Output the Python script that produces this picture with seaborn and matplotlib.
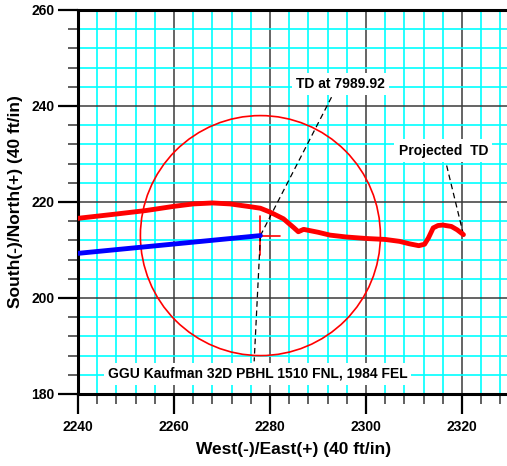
import matplotlib
matplotlib.use("Agg")
import matplotlib.pyplot as plt
import seaborn as sns
import pandas as pd
from matplotlib.patches import Circle
from matplotlib.ticker import MultipleLocator

# ---- data ----
actual_x = [2240, 2248, 2254, 2260, 2264, 2268, 2271.7, 2276, 2278, 2280, 2282.8,
            2284.9, 2285.9, 2287, 2290, 2292.5, 2296, 2300, 2304, 2307, 2309,
            2311, 2312.2, 2313, 2314, 2315, 2316, 2317.8, 2319, 2320.3]
actual_y = [216.6, 217.5, 218.2, 219.1, 219.6, 219.8, 219.6, 219.0, 218.7, 217.9, 216.5,
            214.7, 213.8, 214.3, 213.7, 213.1, 212.7, 212.4, 212.2, 211.8, 211.3,
            210.9, 211.2, 212.5, 214.6, 215.1, 215.2, 214.9, 214.2, 213.2]
plan_x = [2240, 2278]
plan_y = [209.3, 213.0]
target_x = 2278.0
target_y = 213.0
target_radius = 25.0
cross_half = 4.0

td_text = "TD at 7989.92"
td_xy = (2294.6, 244.6)
td_leader_end = (2293.0, 242.2)
proj_text = "Projected  TD"
proj_xy = (2316.1, 230.7)
proj_leader_start = (2316.8, 227.6)
pbhl_text = "GGU Kaufman 32D PBHL 1510 FNL, 1984 FEL"
pbhl_xy = (2277.4, 184.2)
pbhl_leader_end = (2276.7, 186.8)

xlabel = "West(-)/East(+) (40 ft/in)"
ylabel = "South(-)/North(+) (40 ft/in)"

# ---- style ----
sns.set_style("white")
plt.rcParams['font.family'] = ['Liberation Sans', 'DejaVu Sans']
plt.rcParams['font.weight'] = 'bold'
plt.rcParams['text.color'] = 'black'
plt.rcParams['axes.labelcolor'] = 'black'
plt.rcParams['xtick.color'] = 'black'
plt.rcParams['ytick.color'] = 'black'

fig = plt.figure(figsize=(5.07, 4.66), dpi=100)
ax = fig.add_axes([78 / 507, 72 / 466, 432 / 507, 384 / 466])

ax.set_xlim(2240, 2330)
ax.set_ylim(180, 260)

ax.xaxis.set_major_locator(MultipleLocator(20))
ax.xaxis.set_minor_locator(MultipleLocator(4))
ax.yaxis.set_major_locator(MultipleLocator(20))
ax.yaxis.set_minor_locator(MultipleLocator(4))
ax.grid(which='minor', color='#00FFFF', lw=1.2, zorder=0)
ax.grid(which='major', color='#3a3a3a', lw=1.1, zorder=1)
ax.set_axisbelow(True)

ax.tick_params(which='both', bottom=True, left=True, top=False, right=False)
ax.tick_params(which='major', direction='out', length=14.4, width=1.6, color='black',
               labelsize=10, labelcolor='black', pad=2.5)
ax.tick_params(which='minor', direction='out', length=7.2, width=1.2, color='#444444')
ax.tick_params(axis='x', which='major', pad=4)
for lab in ax.get_xticklabels() + ax.get_yticklabels():
    lab.set_fontweight('bold')

for side in ['left', 'bottom', 'top']:
    ax.spines[side].set_linewidth(2.2)
    ax.spines[side].set_color('black')
ax.spines['right'].set_visible(False)

# target circle and crosshair
ax.add_patch(Circle((target_x, target_y), target_radius, fill=False,
                    edgecolor='red', lw=1.2, zorder=3))
ax.plot([target_x - cross_half, target_x + cross_half], [target_y, target_y],
        color='red', lw=1.2, zorder=3)
ax.plot([target_x, target_x], [target_y - cross_half, target_y + cross_half],
        color='red', lw=1.2, zorder=3)

# leader lines
dash = (0, (4.5, 3))
ax.plot([target_x, td_leader_end[0]], [target_y, td_leader_end[1]],
        color='black', lw=0.9, ls=dash, zorder=4)
ax.plot([target_x, pbhl_leader_end[0]], [target_y, pbhl_leader_end[1]],
        color='black', lw=0.9, ls=dash, zorder=4)
ax.plot([proj_leader_start[0], actual_x[-1]], [proj_leader_start[1], actual_y[-1]],
        color='black', lw=0.9, ls=dash, zorder=4)

# well paths
sns.lineplot(x=plan_x, y=plan_y, color='blue', lw=3.5, sort=False, ax=ax, zorder=5)
sns.lineplot(x=actual_x, y=actual_y, color='red', lw=3.5, sort=False, ax=ax, zorder=6)

# labels
box = dict(facecolor='white', edgecolor='none', pad=3)
ax.text(*td_xy, td_text, ha='center', va='center', fontsize=10, fontweight='bold',
        bbox=box, zorder=7)
ax.text(*proj_xy, proj_text, ha='center', va='center', fontsize=10, fontweight='bold',
        bbox=box, zorder=7)
ax.text(*pbhl_xy, pbhl_text, ha='center', va='center', fontsize=10, fontweight='bold',
        bbox=box, zorder=7)

ax.set_xlabel(xlabel, fontsize=12.5, fontweight='bold', labelpad=6)
ax.set_ylabel(ylabel, fontsize=12.5, fontweight='bold', labelpad=6)

fig.savefig('out.png', dpi=100)
